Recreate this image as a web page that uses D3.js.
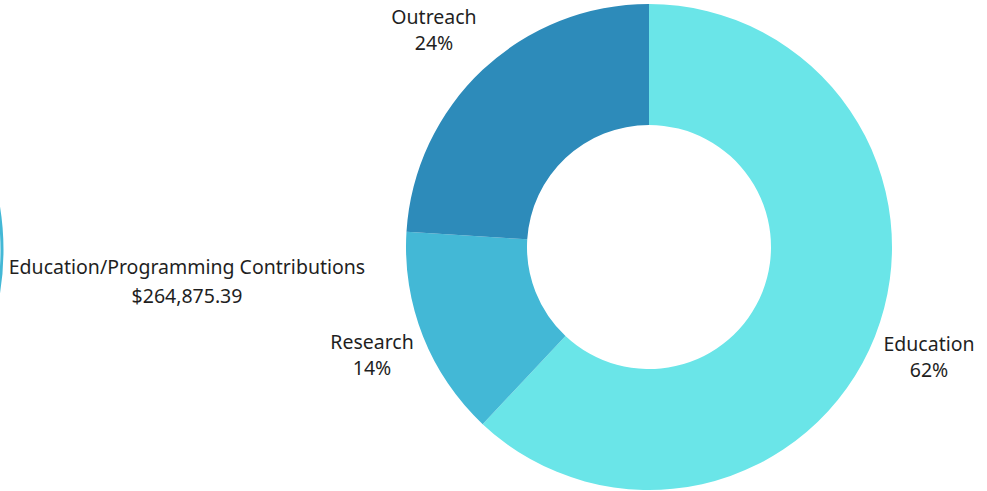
<!DOCTYPE html>
<html>
<head>
<meta charset="utf-8">
<script src="https://cdn.jsdelivr.net/npm/d3@7"></script>
<style>
  body { margin: 0; background: #fff; }
  text { font-family: "Noto Sans", sans-serif; font-size: 19.5px; fill: #1f1f1f; }
</style>
</head>
<body>
<svg id="chart" width="987" height="491"></svg>
<script>
const categories = ["Education", "Research", "Outreach"];
const shares = [62, 14, 24];
const colors = ["#6ae5e8", "#43b8d6", "#2d8bba"];
const sideLabel = "Education/Programming Contributions";
const sideValue = "$264,875.39";

const svg = d3.select("#chart");
const cx = 649, cy = 247, outerR = 243, innerR = 122;

const pie = d3.pie().sort(null).value(d => d.value);
const arcs = pie(categories.map((c, i) => ({ name: c, value: shares[i], color: colors[i] })));

const arc = d3.arc().innerRadius(innerR).outerRadius(outerR);

const g = svg.append("g").attr("transform", `translate(${cx},${cy})`);

g.selectAll("path")
  .data(arcs)
  .join("path")
  .attr("d", arc)
  .attr("fill", d => d.data.color);

// labels placed outside the ring
const labelPos = {
  Education: [929 - cx, 344 - cy],
  Research: [372 - cx, 342 - cy],
  Outreach: [434 - cx, 17 - cy]
};

const lbl = g.selectAll("g.lbl")
  .data(arcs)
  .join("g")
  .attr("class", "lbl")
  .attr("transform", d => `translate(${labelPos[d.data.name]})`);

lbl.append("text")
  .attr("text-anchor", "middle")
  .attr("dy", "0.35em")
  .text(d => d.data.name);

lbl.append("text")
  .attr("text-anchor", "middle")
  .attr("y", 26)
  .attr("dy", "0.35em")
  .text(d => d.data.value + "%");

// edge of the neighbouring chart, cut off at the left
svg.append("circle")
  .attr("cx", -265)
  .attr("cy", 250)
  .attr("r", 267)
  .attr("fill", "none")
  .attr("stroke", colors[1])
  .attr("stroke-width", 3);

svg.append("text")
  .attr("x", 187)
  .attr("y", 267)
  .attr("text-anchor", "middle")
  .attr("dy", "0.35em")
  .text(sideLabel);

svg.append("text")
  .attr("x", 187)
  .attr("y", 296)
  .attr("text-anchor", "middle")
  .attr("dy", "0.35em")
  .text(sideValue);
</script>
</body>
</html>
